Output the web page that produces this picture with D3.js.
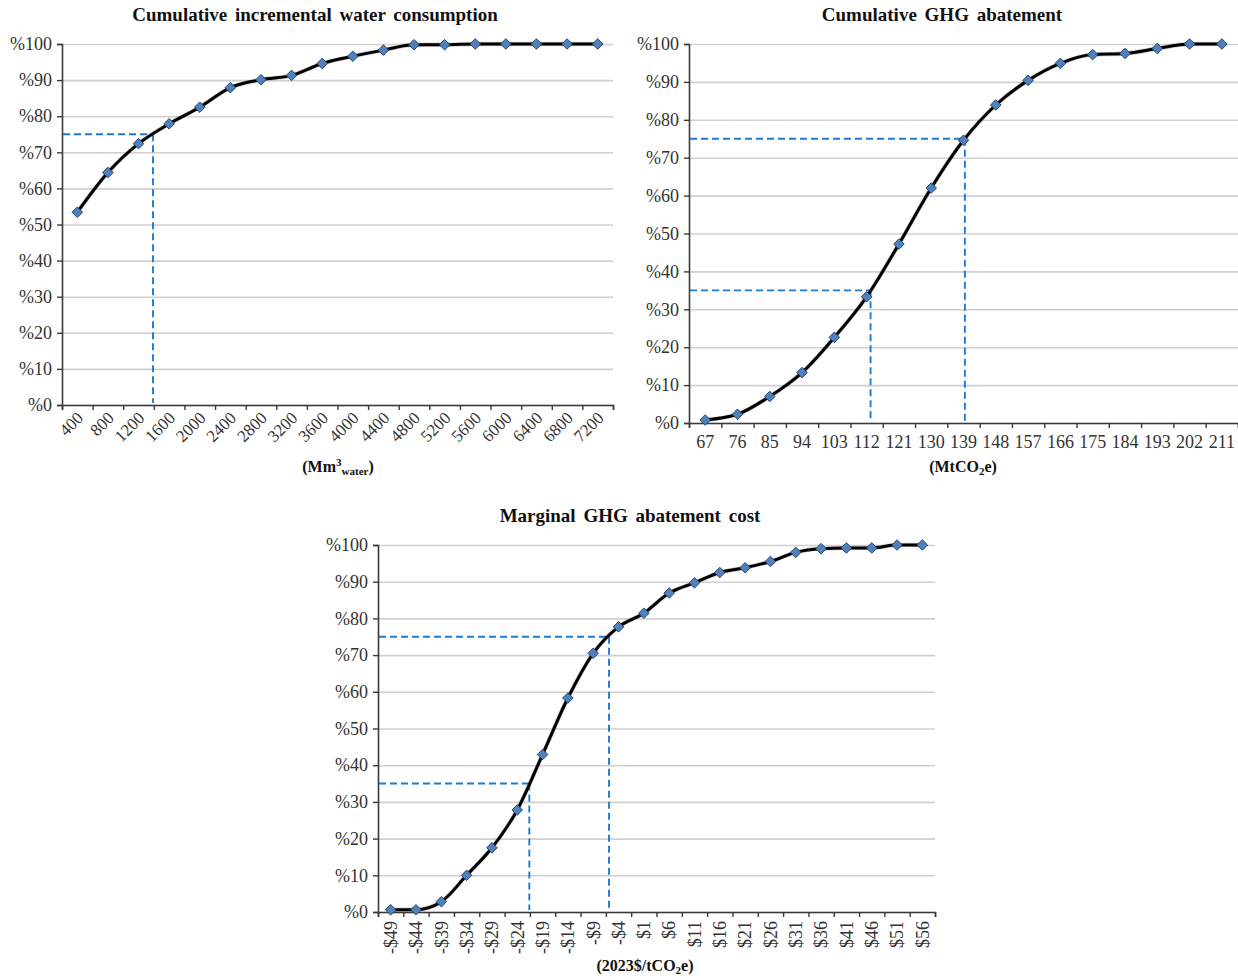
<!DOCTYPE html>
<html>
<head>
<meta charset="utf-8">
<script src="https://cdn.jsdelivr.net/npm/d3@7"></script>
<style>
  html, body { margin: 0; padding: 0; background: #fff; }
  svg text { font-family: "Liberation Serif", "Times New Roman", serif; }
</style>
</head>
<body>
<svg id="fig" width="1238" height="980"></svg>
<script>
// Cumulative incremental water consumption (Mm3 water)
const waterCategories = ["400","800","1200","1600","2000","2400","2800","3200","3600","4000","4400","4800","5200","5600","6000","6400","6800","7200"];
const waterShare = [53.4, 64.4, 72.4, 77.9, 82.5, 87.9, 90.1, 91.3, 94.6, 96.6, 98.3, 99.8, 99.8, 100, 100, 100, 100, 100];

// Cumulative GHG abatement (MtCO2e)
const ghgCategories = ["67","76","85","94","103","112","121","130","139","148","157","166","175","184","193","202","211"];
const ghgShare = [0.8, 2.3, 7.0, 13.3, 22.6, 33.3, 47.2, 62.0, 74.6, 83.9, 90.4, 94.9, 97.2, 97.5, 98.8, 100, 100];

// Marginal GHG abatement cost (2023$/tCO2e)
const costCategories = ["-$49","-$44","-$39","-$34","-$29","-$24","-$19","-$14","-$9","-$4","$1","$6","$11","$16","$21","$26","$31","$36","$41","$46","$51","$56"];
const costShare = [0.6, 0.6, 2.8, 10.0, 17.5, 27.8, 42.9, 58.3, 70.5, 77.7, 81.4, 86.9, 89.7, 92.5, 93.8, 95.5, 98.0, 99.0, 99.2, 99.2, 100, 100];

// Percent tick labels shared by the three value axes
const percentTicks = [0, 10, 20, 30, 40, 50, 60, 70, 80, 90, 100];

// Reference levels marked with dashed guide lines
const waterLevels = [75];
const ghgLevels = [35, 75];
const costLevels = [35, 75];

const svg = d3.select("#fig");

function drawPanel(cfg) {
  const { box, categories, values, levels } = cfg;
  const n = categories.length;
  const g = svg.append("g");

  const x = d3.scaleBand().domain(categories).range([box.x0, box.x1]).padding(0);
  const xIdx = d3.scaleLinear().domain([0, n]).range([box.x0, box.x1]);
  const y = d3.scaleLinear().domain([0, 100]).range([box.y1, box.y0]);
  const w = box.x1 - box.x0;

  // horizontal gridlines
  g.append("g")
    .attr("transform", `translate(${box.x0},0)`)
    .call(d3.axisLeft(y).tickValues(percentTicks).tickSize(-w).tickFormat(""))
    .call(a => a.select(".domain").remove())
    .call(a => a.selectAll(".tick line").attr("stroke", "#d0d0d0").attr("stroke-width", 1.6));

  // value axis
  g.append("g")
    .attr("transform", `translate(${box.x0},0)`)
    .call(d3.axisLeft(y).tickValues(percentTicks).tickSize(5).tickPadding(5).tickFormat(d => "%" + d))
    .call(a => a.select(".domain").attr("stroke", "#3a3a3a").attr("stroke-width", 1.6))
    .call(a => a.selectAll(".tick line").attr("stroke", "#3a3a3a").attr("stroke-width", 1.4))
    .call(a => a.selectAll(".tick text").attr("font-size", 18).attr("fill", "#333")
      .attr("font-family", "Liberation Serif"));

  // category axis: tick marks on category boundaries
  g.append("g")
    .attr("transform", `translate(0,${box.y1})`)
    .call(d3.axisBottom(xIdx).tickValues(d3.range(n + 1)).tickSize(5).tickFormat(""))
    .call(a => a.select(".domain").attr("stroke", "#3a3a3a").attr("stroke-width", 1.6))
    .call(a => a.selectAll(".tick line").attr("stroke", "#3a3a3a").attr("stroke-width", 1.4));

  // category labels
  const lab = g.append("g")
    .attr("transform", `translate(0,${box.y1})`)
    .call(d3.axisBottom(x).tickSize(0).tickPadding(0))
    .call(a => a.select(".domain").remove());
  lab.selectAll(".tick text")
    .attr("font-size", cfg.labelSize).attr("fill", "#333").attr("font-family", "Liberation Serif");
  if (cfg.rotate === -45) {
    lab.selectAll(".tick text")
      .attr("text-anchor", "end").attr("dy", null).attr("y", 0)
      .attr("transform", "translate(7,14) rotate(-45)");
  } else if (cfg.rotate === -90) {
    lab.selectAll(".tick text")
      .attr("text-anchor", "end").attr("dy", "0.35em").attr("y", 0)
      .attr("transform", "translate(0,9) rotate(-90)");
  } else {
    lab.selectAll(".tick text").attr("y", 12).attr("dy", "0.71em");
  }

  // dashed guides at each reference level, crossing the curve
  levels.forEach(level => {
    let k = 0;
    while (k < n - 1 && values[k + 1] < level) k++;
    const t = (level - values[k]) / (values[k + 1] - values[k]);
    const px = xIdx(k + 0.5 + t);
    const py = y(level);
    const guide = g.append("g").attr("stroke", "#1f7ad1").attr("stroke-width", 1.9)
      .attr("stroke-dasharray", "7,4").attr("fill", "none");
    guide.append("line").attr("x1", box.x0 + 1).attr("x2", px).attr("y1", py).attr("y2", py);
    guide.append("line").attr("x1", px).attr("x2", px).attr("y1", py).attr("y2", box.y1 - 2);
  });

  // cumulative curve
  const line = d3.line()
    .x((d, i) => xIdx(i + 0.5))
    .y(d => y(d))
    .curve(d3.curveMonotoneX);
  g.append("path").datum(values)
    .attr("d", line).attr("fill", "none")
    .attr("stroke", "#777").attr("stroke-width", 4.4).attr("stroke-opacity", 0.35)
    .attr("stroke-linejoin", "round");
  g.append("path").datum(values)
    .attr("d", line).attr("fill", "none")
    .attr("stroke", "#000").attr("stroke-width", 3)
    .attr("stroke-linejoin", "round");

  // diamond markers
  const diamond = d3.symbol().type(d3.symbolSquare).size(56);
  g.selectAll("path.mk").data(values).join("path")
    .attr("class", "mk")
    .attr("d", diamond)
    .attr("transform", (d, i) => `translate(${xIdx(i + 0.5)},${y(d)}) rotate(45)`)
    .attr("fill", "#4f81bd").attr("stroke", "#24406b").attr("stroke-width", 0.9);

  // title
  g.append("text")
    .attr("x", cfg.titleX).attr("y", box.y0 - 23)
    .attr("text-anchor", "middle").attr("font-weight", "bold").attr("font-size", 19)
    .attr("word-spacing", 3).attr("fill", "#111")
    .text(cfg.title);

  // axis title with sub/superscripts
  const at = g.append("text")
    .attr("x", cfg.axisTitleX).attr("y", cfg.axisTitleY)
    .attr("text-anchor", "middle").attr("font-weight", "bold").attr("font-size", 16)
    .attr("fill", "#111");
  let shift = 0;
  cfg.axisTitle.forEach(part => {
    const target = part.sup ? -6 : part.sub ? 3 : 0;
    const s = at.append("tspan").text(part.t).attr("dy", target - shift);
    shift = target;
    if (part.sup || part.sub) s.attr("font-size", 11);
  });
}

drawPanel({
  box: { x0: 62, x1: 613, y0: 44, y1: 405 },
  categories: waterCategories, values: waterShare, levels: waterLevels,
  rotate: -45, labelSize: 17,
  title: "Cumulative incremental water consumption", titleX: 315,
  axisTitle: [{ t: "(Mm" }, { t: "3", sup: true }, { t: "water", sub: true }, { t: ")" }],
  axisTitleX: 338, axisTitleY: 472
});

drawPanel({
  box: { x0: 689, x1: 1238, y0: 44, y1: 423 },
  categories: ghgCategories, values: ghgShare, levels: ghgLevels,
  rotate: 0, labelSize: 18,
  title: "Cumulative GHG abatement", titleX: 942,
  axisTitle: [{ t: "(MtCO" }, { t: "2", sub: true }, { t: "e)" }],
  axisTitleX: 963, axisTitleY: 472
});

drawPanel({
  box: { x0: 378, x1: 935, y0: 545, y1: 912 },
  categories: costCategories, values: costShare, levels: costLevels,
  rotate: -90, labelSize: 18,
  title: "Marginal GHG abatement cost", titleX: 630,
  axisTitle: [{ t: "(2023$/tCO" }, { t: "2", sub: true }, { t: "e)" }],
  axisTitleX: 645, axisTitleY: 971
});
</script>
</body>
</html>
